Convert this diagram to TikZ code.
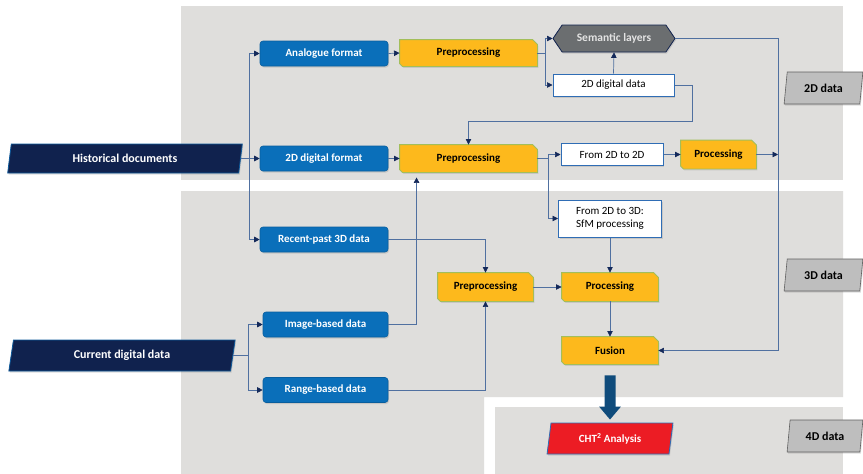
\documentclass[tikz,border=0pt]{standalone}
\usepackage{fontspec}
\setmainfont{Carlito}
\usetikzlibrary{shapes.geometric,shapes.symbols,arrows.meta,calc,shadows}

\definecolor{cPanel}{HTML}{DFDEDC}
\definecolor{cNavy}{HTML}{10224E}
\definecolor{cBlue}{HTML}{0A6FBA}
\definecolor{cYellow}{HTML}{FDB91C}
\definecolor{cYellowEdge}{HTML}{A3BE5A}
\definecolor{cSem}{HTML}{6B6E70}
\definecolor{cLine}{HTML}{5070A0}
\definecolor{cTip}{HTML}{14295A}
\definecolor{cWhiteEdge}{HTML}{2F6DB5}
\definecolor{cRed}{HTML}{EC1C24}
\definecolor{cGrey}{HTML}{BEBEBE}
\definecolor{cBig}{HTML}{0F4B7B}

% rectangle with a large snip at the top right and a small one at the bottom left
\makeatletter
\pgfdeclareshape{snipbox}{
  \inheritsavedanchors[from=rectangle]
  \inheritanchorborder[from=rectangle]
  \inheritanchor[from=rectangle]{center}
  \inheritanchor[from=rectangle]{text}
  \inheritanchor[from=rectangle]{north}
  \inheritanchor[from=rectangle]{south}
  \inheritanchor[from=rectangle]{east}
  \inheritanchor[from=rectangle]{west}
  \inheritanchor[from=rectangle]{north east}
  \inheritanchor[from=rectangle]{north west}
  \inheritanchor[from=rectangle]{south east}
  \inheritanchor[from=rectangle]{south west}
  \backgroundpath{
    \southwest \pgf@xa=\pgf@x \pgf@ya=\pgf@y
    \northeast \pgf@xb=\pgf@x \pgf@yb=\pgf@y
    \pgfpathmoveto{\pgfqpoint{\pgf@xa}{\pgf@yb}}
    \pgfpathlineto{\pgfqpoint{\dimexpr\pgf@xb-5pt\relax}{\pgf@yb}}
    \pgfpathlineto{\pgfqpoint{\pgf@xb}{\dimexpr\pgf@yb-5pt\relax}}
    \pgfpathlineto{\pgfqpoint{\pgf@xb}{\pgf@ya}}
    \pgfpathlineto{\pgfqpoint{\dimexpr\pgf@xa+3pt\relax}{\pgf@ya}}
    \pgfpathlineto{\pgfqpoint{\pgf@xa}{\dimexpr\pgf@ya+3pt\relax}}
    \pgfpathclose
  }
}
\makeatother

\tikzset{
  conn/.style={draw=cLine, line width=0.7pt},
  arr/.style={conn, -{Triangle[length=5.5pt,width=5.5pt,color=cTip]}},
  shade/.style={drop shadow={shadow xshift=1pt, shadow yshift=-1.5pt, opacity=0.25}},
  base/.style={inner sep=0pt, align=center, font=\bfseries\fontsize{11}{13}\selectfont},
  sourcebox/.style={base, rounded corners=3pt, fill=cBlue, draw=cBlue!85!black, line width=0.6pt,
    text=white, shade},
  procbox/.style={base, snipbox, fill=cYellow, draw=cYellowEdge, line width=0.9pt, shade},
  databox/.style={base, font=\fontsize{11}{13}\selectfont, rectangle, fill=white,
    draw=cWhiteEdge, line width=1pt, shade},
  slanted/.style={trapezium, trapezium left angle=79, trapezium right angle=101,
    trapezium stretches=true},
  inputbox/.style={base, slanted, font=\bfseries\fontsize{12}{14}\selectfont, fill=cNavy,
    draw=cBlue!70!cNavy, line width=0.8pt, text=white, shade},
  levelbox/.style={base, slanted, font=\bfseries\fontsize{12}{14}\selectfont, fill=cGrey,
    draw=gray!75!black, line width=0.6pt, text=black, shade},
}

\begin{document}
\begin{tikzpicture}[x=1pt, y=-1pt]
\useasboundingbox (0,0) rectangle (863,474);
\fill[white] (0,0) rectangle (863,474);

% level panels
\fill[cPanel] (181,6) rectangle (843,180);
\fill[cPanel] (181,191) -- (843,191) -- (843,397) -- (484,397) -- (484,474) -- (181,474) -- cycle;
\fill[cPanel] (495,407) rectangle (843,474);

% inputs
\node[inputbox, minimum width=235pt, minimum height=29pt] (hist) at (125,158.5) {Historical documents};
\node[inputbox, minimum width=228pt, minimum height=31pt] (cur) at (122,355.5) {Current digital data};

% data sources
\node[sourcebox, minimum width=128pt, minimum height=25pt] (ana) at (324,53.5) {Analogue format};
\node[sourcebox, minimum width=128pt, minimum height=25pt] (d2f) at (324,158.5) {2D digital format};
\node[sourcebox, minimum width=128pt, minimum height=25pt] (rp3) at (324,239.5) {Recent-past 3D data};
\node[sourcebox, minimum width=125pt, minimum height=25pt] (img) at (325.5,324.5) {Image-based data};
\node[sourcebox, minimum width=125pt, minimum height=25pt] (rng) at (325.5,390) {Range-based data};

% processing steps
\node[procbox, minimum width=137pt, minimum height=26pt] (pre1) at (468.5,53) {Preprocessing};
\node[procbox, minimum width=137pt, minimum height=27pt] (pre2) at (468.5,158.5) {Preprocessing};
\node[procbox, minimum width=75pt, minimum height=28pt] (prc2) at (718.5,154.5) {Processing};
\node[procbox, minimum width=95pt, minimum height=28pt] (pre3) at (485.5,287) {Preprocessing};
\node[procbox, minimum width=96pt, minimum height=28pt] (prc3) at (610,287) {Processing};
\node[procbox, minimum width=96pt, minimum height=27pt] (fus) at (610,350.5) {Fusion};

% semantic layers
\node[base, signal, signal to=west and east, signal pointer angle=112, fill=cSem, draw=cNavy,
  line width=0.8pt, text=gray!22, font=\bfseries\fontsize{11.5}{13}\selectfont,
  minimum width=122pt, minimum height=27pt, shade]
  (sem) at (614,38.5) {Semantic layers};

% intermediate data
\node[databox, minimum width=121pt, minimum height=22pt] (dd) at (613.5,85) {2D digital data};
\node[databox, minimum width=102pt, minimum height=22pt] (f22) at (612,154.5) {From 2D to 2D};
\node[databox, minimum width=103pt, minimum height=37pt] (f23) at (610,218.5) {From 2D to 3D:\\SfM processing};

% analysis
\node[base, slanted, fill=cRed, draw=cWhiteEdge, line width=0.8pt, text=white,
  font=\bfseries\fontsize{11}{13}\selectfont, minimum width=126pt, minimum height=31pt, shade]
  (cht) at (610,438.5) {CHT\textsuperscript{2} Analysis};

% level labels
\node[levelbox, minimum width=79pt, minimum height=32pt] (l2d) at (823.5,88) {2D data};
\node[levelbox, minimum width=79pt, minimum height=32pt] (l3d) at (823.5,275) {3D data};
\node[levelbox, minimum width=76pt, minimum height=32pt] (l4d) at (825,436) {4D data};

% branching points
\coordinate (hbus) at (249,158.5);
\coordinate (cbus) at (248,355.5);
\coordinate (p1b) at (545,53);
\coordinate (p2b) at (548,158.5);
\coordinate (rbus) at (778,350.5);

% historical documents
\draw[conn] (hist.east) -- (hbus);
\draw[arr] (hbus) -- (d2f.west);
\draw[arr] (hbus) |- (ana.west);
\draw[arr] (hbus) |- (rp3.west);

% current digital data
\draw[conn] (cur.east) -- (cbus);
\draw[arr] (cbus) |- (img.west);
\draw[arr] (cbus) |- (rng.west);

% 2D chain
\draw[arr] (ana.east) -- (pre1.west);
\draw[arr] (d2f.east) -- (pre2.west);
\draw[conn] (pre1.east) -- (p1b);
\draw[arr] (p1b) |- (sem.west);
\draw[arr] (p1b) |- (dd.west);
\draw[arr] (dd.north) -- (sem.south);
\draw[arr] (dd.east) -| (692,121) -| (pre2.north);
\draw[conn] (pre2.east) -- (p2b);
\draw[arr] (p2b) |- (f22.west);
\draw[arr] (p2b) |- (f23.west);
\draw[arr] (f22.east) -- (prc2.west);
\draw[arr] (prc2.east) -- (prc2.east -| rbus);
\draw[arr] (sem.east) -| (rbus) -- (fus.east);

% 3D chain
\draw[arr] (img.east) -| ($(pre2.south west)+(17,5)$);
\draw[arr] (rp3.east) -| (pre3.north);
\draw[arr] (rng.east) -| (pre3.south);
\draw[arr] (pre3.east) -- (prc3.west);
\draw[arr] (f23.south) -- (prc3.north);
\draw[arr] (prc3.south) -- (fus.north);

% to analysis
\draw[cBig, line width=11pt, shorten <=11pt, shorten >=3pt,
  -{Triangle[length=13pt,width=21pt,color=cBig]}] (fus.south) -- (cht.north);
\end{tikzpicture}
\end{document}
